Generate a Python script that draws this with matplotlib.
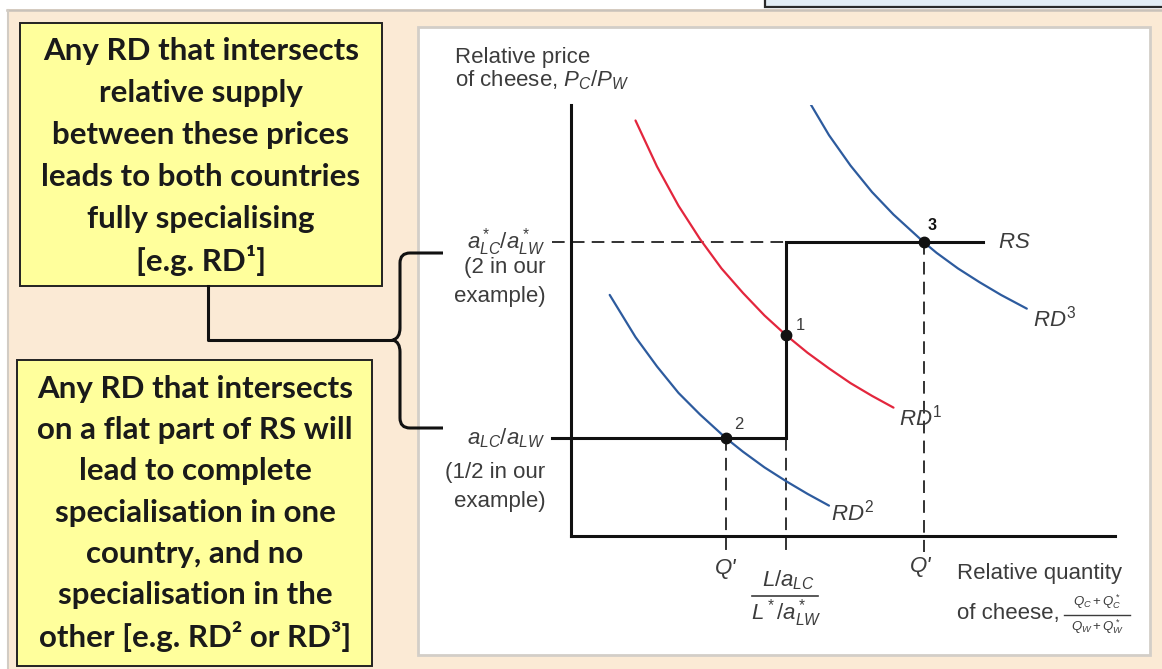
import matplotlib.pyplot as plt
from matplotlib.patches import Rectangle, PathPatch
from matplotlib.path import Path

W, H = 1162, 669

plt.rcParams['mathtext.fontset'] = 'custom'
plt.rcParams['mathtext.rm'] = 'Liberation Sans'
plt.rcParams['mathtext.it'] = 'Liberation Sans:italic'
plt.rcParams['mathtext.bf'] = 'Liberation Sans:bold'

# relative supply: the two autarky price ratios and the kink quantity
rs_low = 1.0        # a_LC / a_LW
rs_high = 3.0       # a*_LC / a*_LW
rs_kink = 5.0       # (L/a_LC) / (L*/a*_LW)
rs_start = -0.45
rs_end = 9.58

# relative demand curves, (quantity, price)
rd1_q = [1.5, 2.0, 2.5, 3.0, 3.5, 4.0, 4.5, 5.0, 5.5, 6.0, 6.5, 7.0, 7.5]
rd1_p = [4.24, 3.77, 3.37, 3.03, 2.73, 2.48, 2.25, 2.05, 1.87, 1.71, 1.56, 1.43, 1.31]
rd2_q = [0.9, 1.5, 2.0, 2.5, 3.0, 3.6, 4.0, 4.5, 5.0, 5.5, 6.0]
rd2_p = [2.46, 2.03, 1.73, 1.46, 1.24, 1.00, 0.86, 0.70, 0.56, 0.43, 0.31]
rd3_q = [5.5, 6.0, 6.5, 7.0, 7.5, 8.2, 8.5, 9.0, 9.5, 10.0, 10.6]
rd3_p = [4.46, 4.09, 3.78, 3.51, 3.28, 3.00, 2.89, 2.73, 2.59, 2.46, 2.32]

# equilibrium points
eq_q = [5.0, 3.6, 8.2]
eq_p = [2.05, 1.0, 3.0]
eq_names = ['1', '2', '3']

top_box_lines = ['Any RD that intersects', 'relative supply',
                 'between these prices', 'leads to both countries',
                 'fully specialising', '[e.g. RD\u00b9]']
bottom_box_lines = ['Any RD that intersects', 'on a flat part of RS will',
                    'lead to complete', 'specialisation in one',
                    'country, and no', 'specialisation in the',
                    'other [e.g. RD\u00b2 or RD\u00b3]']

BEIGE = '#fbead5'
YELLOW = '#ffff9c'
RED = '#e3263d'
BLUE = '#2d5b9e'
INK = '#111111'
GREY_TXT = '#3c3c3c'

fig = plt.figure(figsize=(W / 100, H / 100), dpi=100, facecolor=BEIGE)

# page furniture in pixel coordinates
bg = fig.add_axes([0, 0, 1, 1])
bg.set_xlim(0, W)
bg.set_ylim(H, 0)
bg.axis('off')
bg.add_patch(Rectangle((0, 0), W, 9, facecolor='white', edgecolor='none'))
bg.add_patch(Rectangle((0, 0), 7, H, facecolor='white', edgecolor='none'))
bg.plot([7, W], [9.5, 9.5], color='#c9c2ba', lw=1.8)
bg.plot([7.5, 7.5], [9.5, H], color='#d2ccc4', lw=1.5)
bg.add_patch(Rectangle((765, -5), W, 12, facecolor='#e3edf5',
                       edgecolor='#2a2a2a', lw=1.6))
bg.add_patch(Rectangle((418, 27), 732, 628, facecolor='white',
                       edgecolor='#d3cec8', lw=2))

# yellow note boxes
bg.add_patch(Rectangle((20, 23), 362, 263, facecolor=YELLOW,
                       edgecolor='#222222', lw=1.4))
bg.add_patch(Rectangle((17, 360), 355, 306, facecolor=YELLOW,
                       edgecolor='#222222', lw=1.4))
for i, line in enumerate(top_box_lines):
    bg.text(201, 51 + i * 42, line, ha='center', va='center',
            family='Lato', weight='bold', fontsize=22.5, color='#1a1a1a')
for i, line in enumerate(bottom_box_lines):
    bg.text(195, 389 + i * 41.2, line, ha='center', va='center',
            family='Lato', weight='bold', fontsize=22.5, color='#1a1a1a')

# connector from the top box into the brace
bg.plot([208, 208, 394], [286, 340, 340], color=INK, lw=2.2,
        solid_joinstyle='round')
brace = Path([(443, 253), (410, 253), (400, 253), (400, 263),
              (400, 328), (400, 338), (393, 340),
              (400, 342), (400, 352), (400, 418),
              (400, 428), (410, 428), (443, 428)],
             [Path.MOVETO, Path.LINETO, Path.CURVE3, Path.CURVE3,
              Path.LINETO, Path.CURVE3, Path.CURVE3,
              Path.CURVE3, Path.CURVE3, Path.LINETO,
              Path.CURVE3, Path.CURVE3, Path.LINETO])
bg.add_patch(PathPatch(brace, facecolor='none', edgecolor=INK, lw=2.2))

# the trade diagram itself
ax = fig.add_axes([571 / W, (H - 536) / H, 544 / W, 431 / H])
ax.set_xlim(0, 544 / 43)
ax.set_ylim(0, 431 / 98)
ax.patch.set_alpha(0)
for side in ['top', 'right']:
    ax.spines[side].set_visible(False)
for side in ['left', 'bottom']:
    ax.spines[side].set_linewidth(2.2)
    ax.spines[side].set_color(INK)
ax.set_xticks([])
ax.set_yticks([])

dash = dict(color='#222222', lw=1.3, dashes=(7, 4), clip_on=False)
ax.plot([rs_start, rs_kink], [rs_high, rs_high], **dash)
ax.plot([eq_q[1], eq_q[1]], [rs_low, -0.16], **dash)
ax.plot([rs_kink, rs_kink], [rs_low, -0.16], **dash)
ax.plot([eq_q[2], eq_q[2]], [rs_high, -0.16], **dash)

ax.plot([rs_start, rs_kink, rs_kink, rs_end], [rs_low, rs_low, rs_high, rs_high],
        color=INK, lw=2.2, clip_on=False, solid_joinstyle='miter')

ax.plot(rd1_q, rd1_p, color=RED, lw=1.6, solid_capstyle='round')
ax.plot(rd2_q, rd2_p, color=BLUE, lw=1.6, solid_capstyle='round')
ax.plot(rd3_q, rd3_p, color=BLUE, lw=1.6, solid_capstyle='round')

ax.plot(eq_q, eq_p, 'o', color=INK, ms=7.5, zorder=5)
ax.text(eq_q[0] + 0.22, eq_p[0] + 0.1, eq_names[0], fontsize=12,
        color=GREY_TXT, va='center', family='Liberation Sans')
ax.text(eq_q[1] + 0.2, eq_p[1] + 0.14, eq_names[1], fontsize=12,
        color=GREY_TXT, va='center', family='Liberation Sans')
ax.text(eq_q[2] + 0.1, eq_p[2] + 0.17, eq_names[2], fontsize=11.5,
        color=INK, va='center', family='Liberation Sans', weight='bold')

lab = dict(fontsize=16, color=GREY_TXT, family='Liberation Sans', clip_on=False)
ax.text(rs_end + 0.35, rs_high, '$RS$', va='center', ha='left', **lab)
ax.text(7.62, 1.21, '$RD^1$', va='center', ha='left', **lab)
ax.text(6.05, 0.24, '$RD^2$', va='center', ha='left', **lab)
ax.text(10.75, 2.22, '$RD^3$', va='center', ha='left', **lab)

# price axis labels
ax.text(-2.7, 4.88, 'Relative price', va='center', ha='left', **lab)
ax.text(-2.7, 4.65, 'of cheese, $P_C/P_W$', va='center', ha='left', **lab)
ax.text(-0.6, rs_high, '$a^*_{LC}/a^*_{LW}$', va='center', ha='right', **lab)
ax.text(-0.6, 2.74, '(2 in our', va='center', ha='right', **lab)
ax.text(-0.6, 2.44, 'example)', va='center', ha='right', **lab)
ax.text(-0.6, rs_low, '$a_{LC}/a_{LW}$', va='center', ha='right', **lab)
ax.text(-0.6, 0.65, '(1/2 in our', va='center', ha='right', **lab)
ax.text(-0.6, 0.35, 'example)', va='center', ha='right', **lab)

# quantity axis labels
ax.text(eq_q[1], -0.33, "Q'", va='center', ha='center', style='italic', **lab)
ax.text(eq_q[2] - 0.08, -0.31, "Q'", va='center', ha='center', style='italic', **lab)
ax.text(rs_kink + 0.05, -0.45, '$L/a_{LC}$', va='center', ha='center', **lab)
ax.plot([4.2, 5.74], [-0.61, -0.61], color=GREY_TXT, lw=1.2, clip_on=False)
ax.text(rs_kink, -0.79, '$L^*/a^*_{LW}$', va='center', ha='center', **lab)

ax.text(8.98, -0.38, 'Relative quantity', va='center', ha='left', **lab)
ax.text(8.98, -0.79, 'of cheese,', va='center', ha='left', **lab)
small = dict(lab, fontsize=9.5)
ax.text(12.24, -0.67, '$Q_C + Q^*_C$', va='center', ha='center', **small)
ax.plot([11.47, 13.0], [-0.806, -0.806], color=GREY_TXT, lw=1.0, clip_on=False)
ax.text(12.24, -0.93, '$Q_W + Q^*_W$', va='center', ha='center', **small)

fig.savefig('out.png', dpi=100, facecolor=BEIGE)
